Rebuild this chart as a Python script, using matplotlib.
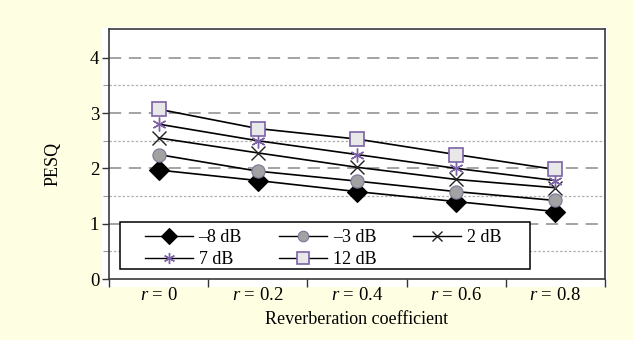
import numpy as np
import matplotlib
matplotlib.use("Agg")
import matplotlib.pyplot as plt
from matplotlib.patches import Rectangle
from matplotlib.ticker import FixedLocator, NullFormatter

plt.rcParams['font.family'] = ['Liberation Serif', 'DejaVu Serif']
plt.rcParams['mathtext.fontset'] = 'custom'
plt.rcParams['mathtext.it'] = 'Liberation Serif:italic'
plt.rcParams['mathtext.rm'] = 'Liberation Serif'

# data
categories = ['$r$ = 0', '$r$ = 0.2', '$r$ = 0.4', '$r$ = 0.6', '$r$ = 0.8']
snr_labels = ['\u20138 dB', '\u20133 dB', '2 dB', '7 dB', '12 dB']
pesq_m8 = [1.97, 1.78, 1.58, 1.40, 1.22]
pesq_m3 = [2.25, 1.95, 1.77, 1.58, 1.42]
pesq_2 = [2.55, 2.28, 2.02, 1.80, 1.65]
pesq_7 = [2.80, 2.50, 2.25, 2.00, 1.78]
pesq_12 = [3.07, 2.72, 2.53, 2.25, 1.98]

series = [pesq_m8, pesq_m3, pesq_2, pesq_7, pesq_12]
purple = '#7c62a6'
styles = [
    dict(marker='D', ms=10, mfc='black', mec='black', mew=0.8),
    dict(marker='o', ms=9.5, mfc='#a2a2a2', mec='#7f7499', mew=0.8),
    dict(marker='x', ms=9.5, mfc='none', mec='#222222', mew=1.0),
    dict(marker=(6, 2, 0), ms=10, mfc='none', mec=purple, mew=1.0),
    dict(marker='s', ms=10, mfc='#e8e8e8', mec=purple, mew=1.2),
]

fig = plt.figure(figsize=(6.33, 3.40), dpi=100)
fig.patch.set_facecolor('#fefee2')
# white panel behind the plot
panel = Rectangle((102 / 633, 1 - 287 / 340), 505 / 633, 260 / 340,
                  transform=fig.transFigure, facecolor='white',
                  edgecolor='none', zorder=-10)
fig.add_artist(panel)

ax = fig.add_axes([109 / 633, 1 - 279 / 340, 496 / 633, 250 / 340])
ax.set_facecolor('white')

x = np.arange(len(categories))
handles = []
for vals, lab, st in zip(series, snr_labels, styles):
    h, = ax.plot(x, vals, color='black', lw=1.2, label=lab, zorder=3, **st)
    handles.append(h)

ax.set_xlim(-0.5, 4.5)
ax.set_ylim(0, 4.52)

# grid: dashed at integers, dotted at halves
for yv in [1, 2, 3, 4]:
    ax.axhline(yv, color='#8a8a8a', lw=1.1, ls=(0, (8, 5)), zorder=1)
for yv in [0.5, 1.5, 2.5, 3.5]:
    ax.axhline(yv, color='#b0b0b0', lw=0.9, ls=(0, (2, 1.5)), zorder=1)

ax.set_yticks([0, 1, 2, 3, 4])
ax.yaxis.set_minor_locator(FixedLocator([0.5, 1.5, 2.5, 3.5]))
ax.tick_params(axis='y', which='major', length=5, width=1, color='#333333',
               labelsize=13.5, pad=2)
ax.tick_params(axis='y', which='minor', length=4, width=0.8, color='#999999')

ax.set_xticks(x)
ax.set_xticklabels(categories)
ax.xaxis.set_minor_locator(FixedLocator([-0.5, 0.5, 1.5, 2.5, 3.5, 4.5]))
ax.xaxis.set_minor_formatter(NullFormatter())
ax.tick_params(axis='x', which='major', length=0, labelsize=13.5, pad=6)
ax.tick_params(axis='x', which='minor', length=6, width=1, color='#333333')

for sp in ax.spines.values():
    sp.set_color('#3a3a3a')
    sp.set_linewidth(1.2)

ax.set_ylabel('PESQ', fontsize=13)
ax.yaxis.set_label_coords(-0.095, 0.46)
ax.set_xlabel('Reverberation coefficient', fontsize=13, labelpad=5)

# legend frame drawn separately so the entries can sit inset from it
frame = Rectangle(((120 - 109) / 496, (279 - 269) / 250), 410 / 496, 47 / 250,
                  transform=ax.transAxes, facecolor='white', edgecolor='black',
                  lw=1.1, zorder=5)
ax.add_patch(frame)

order = [0, 3, 1, 4, 2]
leg = ax.legend([handles[i] for i in order], [snr_labels[i] for i in order],
                ncol=3, loc='center left',
                bbox_to_anchor=((145 - 109) / 496, (279 - 248.5) / 250),
                fontsize=13, frameon=False, handlelength=2.67,
                handletextpad=0.3, columnspacing=2.05, labelspacing=0.28,
                borderpad=0, borderaxespad=0, markerscale=0.8)
for lh in leg.legend_handles:
    lh.set_linewidth(1.0)
leg.set_zorder(6)

fig.savefig('out.png', dpi=100, facecolor=fig.get_facecolor())
